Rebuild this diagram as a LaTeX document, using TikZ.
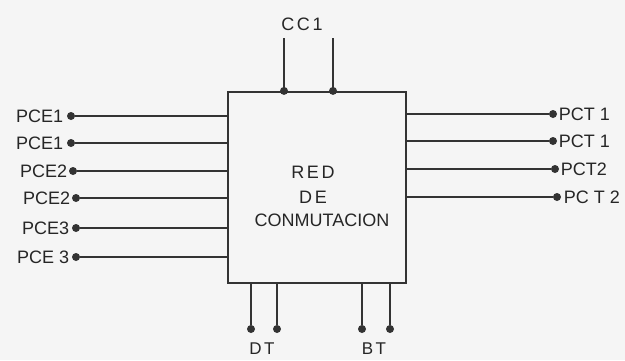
\documentclass[tikz,border=0pt]{standalone}
\usepackage{fontspec}
\setmainfont{Liberation Sans}
\usetikzlibrary{positioning}

\tikzset{
  wire/.style={line width=2.2pt, black!80},
  dot/.style={circle, fill=black!80, inner sep=0pt, minimum size=8pt},
  lbl/.style={font=\fontsize{18}{20}\selectfont, text=black!85, inner sep=1.5pt},
  spaced/.style={font=\fontsize{18}{20}\selectfont\addfontfeature{LetterSpace=15}, text=black!85}
}

\begin{document}
\begin{tikzpicture}[x=1pt,y=-1pt]
\useasboundingbox (0,0) rectangle (625,360);
\fill[black!4] (0,0) rectangle (625,360);

% switching network
\node[draw=black!80, line width=2.2pt, minimum width=178pt, minimum height=191pt,
      inner sep=0pt] (red) at (317,187.5) {};
\node[spaced] (t1) at (313,172) {RED};
\node[spaced] (t2) at (313,197) {DE};
\node[lbl] (t3) at (322,220) {CONMUTACION};

% left terminals
\node[dot] (pe1) at (71,116) {};
\node[dot] (pe2) at (71,143) {};
\node[dot] (pe3) at (73,171) {};
\node[dot] (pe4) at (76,198) {};
\node[dot] (pe5) at (76,228) {};
\node[dot] (pe6) at (76,257) {};
\draw[wire] (pe1) -- (pe1 -| red.west);
\draw[wire] (pe2) -- (pe2 -| red.west);
\draw[wire] (pe3) -- (pe3 -| red.west);
\draw[wire] (pe4) -- (pe4 -| red.west);
\draw[wire] (pe5) -- (pe5 -| red.west);
\draw[wire] (pe6) -- (pe6 -| red.west);
\node[lbl, left=2pt of pe1] (lpe1) {PCE1};
\node[lbl, left=2pt of pe2] (lpe2) {PCE1};
\node[lbl, left=0pt of pe3] (lpe3) {PCE2};
\node[lbl, left=0pt of pe4] (lpe4) {PCE2};
\node[lbl, left=1pt of pe5] (lpe5) {PCE3};
\node[lbl, left=1pt of pe6] (lpe6) {PCE 3};

% right terminals
\node[dot] (pt1) at (553,114) {};
\node[dot] (pt2) at (553,141) {};
\node[dot] (pt3) at (555,169) {};
\node[dot] (pt4) at (557,197) {};
\draw[wire] (pt1 -| red.east) -- (pt1);
\draw[wire] (pt2 -| red.east) -- (pt2);
\draw[wire] (pt3 -| red.east) -- (pt3);
\draw[wire] (pt4 -| red.east) -- (pt4);
\node[lbl, right=0pt of pt1] (lpt1) {PCT 1};
\node[lbl, right=0pt of pt2] (lpt2) {PCT 1};
\node[lbl, right=0pt of pt3] (lpt3) {PCT2};
\node[lbl, right=1pt of pt4] (lpt4) {PC T 2};

% control lines
\coordinate (cc1) at (284,38);
\coordinate (cc2) at (333,38);
\node[dot] (cd1) at (cc1 |- red.north) {};
\node[dot] (cd2) at (cc2 |- red.north) {};
\draw[wire] (cc1) -- (cd1);
\draw[wire] (cc2) -- (cd2);
\node[spaced] (lcc) at (302,24) {CC1};

% bottom terminals
\node[dot] (dt1) at (251,329) {};
\node[dot] (dt2) at (277,329) {};
\node[dot] (bt1) at (362,329) {};
\node[dot] (bt2) at (390,329) {};
\draw[wire] (dt1 |- red.south) -- (dt1);
\draw[wire] (dt2 |- red.south) -- (dt2);
\draw[wire] (bt1 |- red.south) -- (bt1);
\draw[wire] (bt2 |- red.south) -- (bt2);
\node[spaced, inner sep=0pt, font=\fontsize{17}{19}\selectfont\addfontfeature{LetterSpace=15}] (ldt) at (262,349) {DT};
\node[spaced, inner sep=0pt, font=\fontsize{17}{19}\selectfont\addfontfeature{LetterSpace=15}] (lbt) at (374,349) {BT};
\end{tikzpicture}
\end{document}
